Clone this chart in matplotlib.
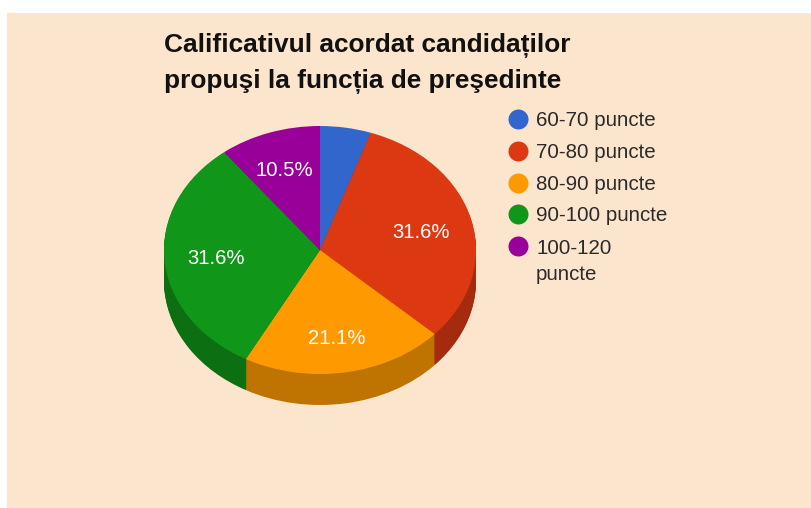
import matplotlib
matplotlib.use('Agg')
import matplotlib.pyplot as plt

plt.rcParams['font.family'] = ['Liberation Sans', 'DejaVu Sans']

labels = ['60-70 puncte', '70-80 puncte', '80-90 puncte', '90-100 puncte', '100-120\npuncte']
values = [1, 6, 4, 6, 2]
colors = ['#3366CC', '#DC3912', '#FF9900', '#109618', '#990099']
side_colors = ['#264D99', '#A52B0E', '#BF7300', '#0C7012', '#730073']
title = 'Calificativul acordat candidaților\npropuşi la funcția de preşedinte'

W, H = 811, 508
bg = '#FCE5CD'
cx, cy, rx, ry = 320, 250, 156, 124
depth = 31


def pct_label(p):
    # the smallest slice has no label in the original
    return '%.1f%%' % p if p > 6 else ''


fig = plt.figure(figsize=(W / 100, H / 100), dpi=100, facecolor='white')

# Background panel, the picture has a white strip on the left and top
left, top = 7, 13
ax = fig.add_axes([left / W, 0, (W - left) / W, (H - top) / H])

# Side wall: dark pies stacked downwards
for d in range(depth, 0, -1):
    ax.pie(values, colors=side_colors, startangle=90, counterclock=False,
           center=(0, -d / ry), radius=1, wedgeprops={'linewidth': 0})

wedges, texts, autotexts = ax.pie(values, colors=colors, startangle=90, counterclock=False,
                                  autopct=pct_label, pctdistance=0.67,
                                  wedgeprops={'linewidth': 0},
                                  textprops={'color': 'white', 'fontsize': 14.6})

# pie() switches the frame off, which also hides the background
ax.set_frame_on(True)
ax.set_facecolor(bg)
for s in ax.spines.values():
    s.set_visible(False)

# small nudges to sit the percentages where they are in the picture
nudge_x = [0, 0, 0, 0, -2]
nudge_y = [0, 3, 7, 2, -1]
for t, nx, ny in zip(autotexts, nudge_x, nudge_y):
    x, y = t.get_position()
    t.set_position((x + nx / rx, y - ny / ry))

# Squash the circle to an ellipse, one data unit is rx by ry pixels
ax.set_aspect('auto')
ax.set_xlim((left - cx) / rx, (W - cx) / rx)
ax.set_ylim((cy - H) / ry, (cy - top) / ry)

# Overlay in pixel coordinates for title and legend
ov = fig.add_axes([0, 0, 1, 1], facecolor='none')
ov.set_xlim(0, W)
ov.set_ylim(H, 0)
ov.axis('off')

# multi-line text sits on the baseline of its last line
ov.text(164, 88, title, fontsize=18.9, fontweight='bold', color='#111111',
        va='baseline', ha='left', linespacing=1.57)

row_y = [119, 151, 182.5, 214, 246]
for lab, col, y in zip(labels, colors, row_y):
    ov.plot([518], [y], marker='o', ms=14.4, mew=0, color=col, linestyle='none')
    base = y + 7 + 27 * lab.count('\n')
    ov.text(536, base, lab, fontsize=14.8, color='#2a2a2a', va='baseline', ha='left', linespacing=1.5)

fig.savefig('out.png', dpi=100, facecolor='white')
